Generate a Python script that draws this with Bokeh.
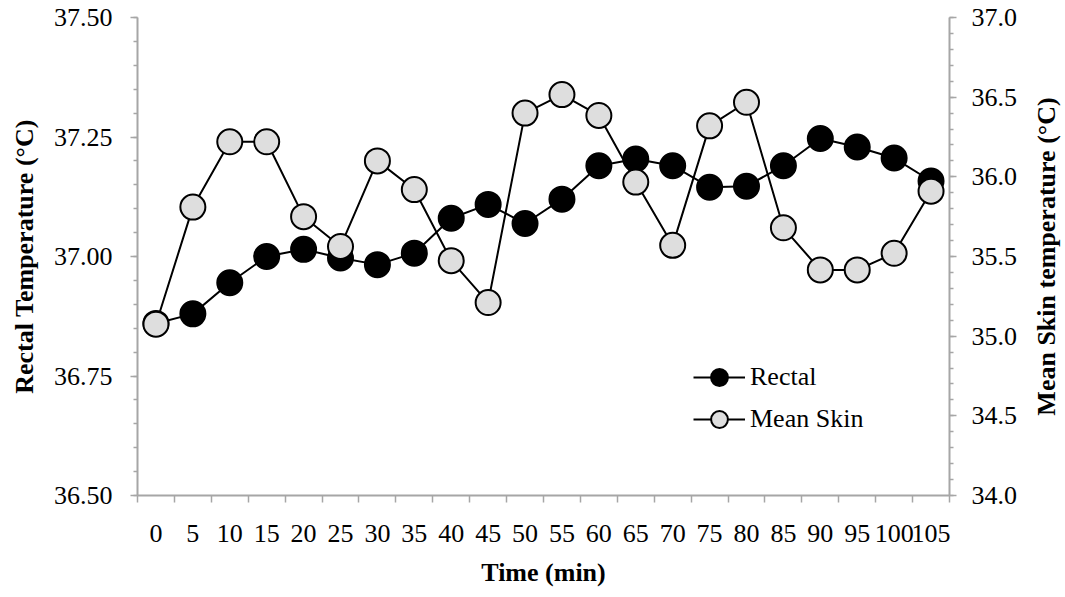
import math
from bokeh.plotting import figure
from bokeh.layouts import row
from bokeh.models import (Range1d, LinearAxis, FixedTicker, Legend, LegendItem,
                          NumeralTickFormatter, ColumnDataSource)
from bokeh.embed import file_html
from bokeh.resources import INLINE

# ---- data ----
times = [0, 5, 10, 15, 20, 25, 30, 35, 40, 45, 50, 55, 60, 65, 70, 75, 80, 85, 90, 95, 100, 105]
rectal = [36.86, 36.88, 36.945, 37.00, 37.015, 36.997, 36.983, 37.007, 37.08, 37.109, 37.069,
          37.12, 37.19, 37.204, 37.19, 37.145, 37.147, 37.19, 37.247, 37.229, 37.206, 37.158]
mean_skin = [35.075, 35.81, 36.22, 36.22, 35.75, 35.563, 36.10, 35.92, 35.474, 35.211, 36.40,
             36.516, 36.385, 35.967, 35.57, 36.32, 36.468, 35.68, 35.416, 35.416, 35.52, 35.91]
left_ticks = [36.50, 36.75, 37.00, 37.25, 37.50]
right_ticks = [34.0, 34.5, 35.0, 35.5, 36.0, 36.5, 37.0]
x_title = "Time (min)"
left_title = "Rectal Temperature (°C)"
right_title = "Mean Skin temperature (°C)"

FONT = "Liberation Serif"
FS = "26px"
AX_COLOR = "#a6a6a6"

n = len(times)
xpos = [i + 0.5 for i in range(n)]
src = ColumnDataSource(dict(x=xpos, rectal=rectal, skin=mean_skin))

p = figure(width=1020, height=589, output_backend="svg", toolbar_location=None,
           x_range=Range1d(0, n), y_range=Range1d(left_ticks[0], left_ticks[-1]),
           min_border_left=137, min_border_right=69, min_border_top=17, min_border_bottom=89)
p.extra_y_ranges = {"skin": Range1d(right_ticks[0], right_ticks[-1])}
p.outline_line_color = None
p.xgrid.visible = False
p.ygrid.visible = False
p.background_fill_color = "white"


def style_axis(ax):
    ax.axis_line_color = AX_COLOR
    ax.axis_line_width = 2
    ax.major_tick_line_color = AX_COLOR
    ax.minor_tick_line_color = AX_COLOR
    ax.major_tick_line_width = 1.5
    ax.minor_tick_line_width = 1.5
    ax.major_tick_in = 0
    ax.minor_tick_in = 0
    ax.major_label_text_font = FONT
    ax.major_label_text_font_size = FS
    ax.major_label_text_color = "black"
    ax.axis_label_text_font = FONT
    ax.axis_label_text_font_size = FS
    ax.axis_label_text_font_style = "bold"
    ax.axis_label_text_color = "black"


# x axis
xa = p.xaxis[0]
style_axis(xa)
xa.ticker = FixedTicker(ticks=xpos, minor_ticks=list(range(n + 1)))
xa.major_label_overrides = {xv: str(t) for xv, t in zip(xpos, times)}
xa.major_tick_out = 0
xa.minor_tick_out = 7
xa.major_label_standoff = 22
xa.axis_label = x_title
xa.axis_label_standoff = 13

# left axis
ya = p.yaxis[0]
style_axis(ya)
ya.ticker = FixedTicker(ticks=left_ticks,
                        minor_ticks=[round(36.5 + 0.05 * k, 2) for k in range(21)])
ya.formatter = NumeralTickFormatter(format="0.00")
ya.major_tick_out = 7
ya.minor_tick_out = 4
ya.major_label_standoff = 18
ya.axis_label = left_title
ya.axis_label_standoff = 12

# right axis (ticks + tick labels)
ra = LinearAxis(y_range_name="skin")
style_axis(ra)
ra.ticker = FixedTicker(ticks=right_ticks,
                        minor_ticks=[round(34.0 + 0.1 * k, 1) for k in range(31)])
ra.formatter = NumeralTickFormatter(format="0.0")
ra.major_tick_out = 7
ra.minor_tick_out = 4
ra.major_label_standoff = 15
p.add_layout(ra, "right")

# series
r1l = p.line("x", "rectal", source=src, line_color="black", line_width=2)
r1m = p.scatter("x", "rectal", source=src, size=25, fill_color="black",
                line_color="black", line_width=2)
r2l = p.line("x", "skin", source=src, y_range_name="skin", line_color="black", line_width=2)
r2m = p.scatter("x", "skin", source=src, y_range_name="skin", size=25,
                fill_color="#dedede", line_color="black", line_width=2)

legend = Legend(items=[LegendItem(label="Rectal", renderers=[r1l, r1m]),
                       LegendItem(label="Mean Skin", renderers=[r2l, r2m])],
                location=(556, 55), orientation="vertical",
                border_line_color=None, background_fill_alpha=0,
                padding=0, margin=0, spacing=0,
                glyph_width=52, glyph_height=42, label_standoff=5,
                label_text_font=FONT, label_text_font_size=FS, label_text_color="black")
p.add_layout(legend)

# narrow companion panel that carries the right-hand axis title (reads bottom-to-top)
p2 = figure(width=45, height=589, output_backend="svg", toolbar_location=None,
            x_range=Range1d(0, 1), y_range=Range1d(right_ticks[0], right_ticks[-1]),
            min_border_left=40, min_border_right=0, min_border_top=17, min_border_bottom=89)
p2.outline_line_color = None
p2.xgrid.visible = False
p2.ygrid.visible = False
p2.xaxis.visible = False
ax2 = p2.yaxis[0]
style_axis(ax2)
ax2.ticker = FixedTicker(ticks=[])
ax2.axis_line_color = None
ax2.major_tick_line_color = None
ax2.minor_tick_line_color = None
ax2.major_tick_out = 0
ax2.minor_tick_out = 0
ax2.axis_label = right_title
ax2.axis_label_standoff = 0

layout = row(p, p2, spacing=0)
open("out.html", "w").write(file_html(layout, INLINE))
